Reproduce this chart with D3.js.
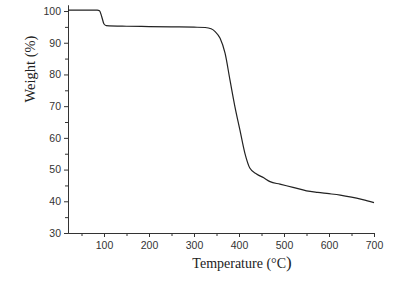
<!DOCTYPE html>
<html>
<head>
<meta charset="utf-8">
<script src="https://cdn.jsdelivr.net/npm/d3@7"></script>
<style>
  body { margin: 0; background: #fff; }
  .axis text { font-family: "Liberation Sans", Arial, sans-serif; font-size: 10.5px; fill: #333; }
  .axis path, .axis line { stroke: #333; }
  .axis-title { font-family: "Liberation Serif", "Times New Roman", serif; font-size: 14px; fill: #222; }
</style>
</head>
<body>
<svg id="chart"></svg>
<script>
// TGA curve
const temperature = [20, 60, 85, 90, 95, 100, 105, 150, 200, 250, 300, 325, 338, 347, 358, 369, 380, 391, 402, 413, 424, 439, 455, 469, 491, 520, 550, 575, 600, 625, 650, 675, 700];
const weight =      [100.3, 100.3, 100.3, 100.1, 98.2, 95.9, 95.4, 95.2, 95.1, 95.0, 94.9, 94.8, 94.4, 93.5, 91.4, 86.7, 78.2, 69.8, 62.5, 55.2, 50.5, 48.6, 47.4, 46.2, 45.4, 44.4, 43.3, 42.8, 42.4, 41.95, 41.3, 40.5, 39.6];
const xTicks = [100, 200, 300, 400, 500, 600, 700];
const yTicks = [30, 40, 50, 60, 70, 80, 90, 100];

const data = temperature.map((t, i) => ({t: t, w: weight[i]}));

const width = 403, height = 283;
const margin = {top: 5, right: 29, bottom: 50, left: 68};
const innerW = width - margin.left - margin.right;
const innerH = height - margin.top - margin.bottom;

const svg = d3.select('#chart')
    .attr('width', width)
    .attr('height', height);

const chart = svg.append('g')
    .attr('transform', `translate(${margin.left},${margin.top})`);

const xScale = d3.scaleLinear().domain([20, 700]).range([0, innerW]);
const yScale = d3.scaleLinear().domain([30, 101.9]).range([innerH, 0]);

// minor ticks first, majors drawn on top
const xMinor = d3.range(50, 701, 100);
const yMinor = d3.range(35, 101, 10);

chart.append('g')
    .attr('class', 'axis')
    .attr('transform', `translate(0,${innerH})`)
    .call(d3.axisBottom(xScale).tickValues(xMinor).tickSize(3).tickSizeOuter(0).tickFormat(''));

chart.append('g')
    .attr('class', 'axis')
    .call(d3.axisLeft(yScale).tickValues(yMinor).tickSize(3).tickSizeOuter(0).tickFormat(''));

chart.append('g')
    .attr('class', 'axis')
    .attr('transform', `translate(0,${innerH})`)
    .call(d3.axisBottom(xScale).tickValues(xTicks).tickSize(4).tickSizeOuter(0).tickPadding(5));

chart.append('g')
    .attr('class', 'axis')
    .call(d3.axisLeft(yScale).tickValues(yTicks).tickSize(4).tickSizeOuter(0).tickPadding(3));

const line = d3.line()
    .x(d => xScale(d.t))
    .y(d => yScale(d.w))
    .curve(d3.curveMonotoneX);

chart.append('path')
    .datum(data)
    .attr('fill', 'none')
    .attr('stroke', '#222')
    .attr('stroke-width', 1.2)
    .attr('d', line);

// axis titles
const xt = svg.append('text')
    .attr('class', 'axis-title')
    .attr('x', 242)
    .attr('y', 268)
    .attr('text-anchor', 'middle');
xt.append('tspan').text('Temperature (°C');
xt.append('tspan').style('font-size', '17px').text(')');

svg.append('text')
    .attr('class', 'axis-title')
    .style('font-size', '14.5px')
    .attr('transform', 'translate(35,69) rotate(-90)')
    .attr('text-anchor', 'middle')
    .text('Weight (%)');
</script>
</body>
</html>
